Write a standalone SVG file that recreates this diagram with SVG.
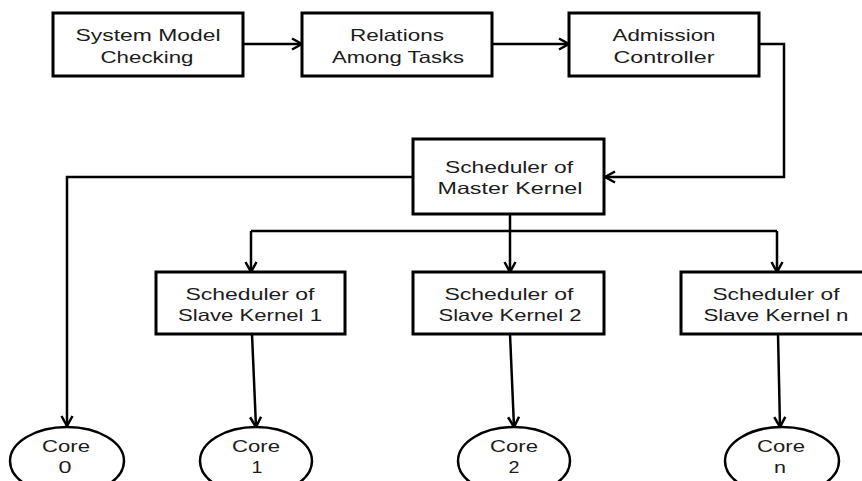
<svg xmlns="http://www.w3.org/2000/svg" width="862" height="481" viewBox="0 0 862 481">
  <style>
    .box { fill: #ffffff; stroke: #000000; stroke-width: 3; }
    .core { fill: #ffffff; stroke: #000000; stroke-width: 2.5; }
    .lbl { font-family: "Liberation Sans", Arial, sans-serif; font-size: 16.5px; fill: #1c1c1c; text-anchor: middle; }
    .wire { fill: none; stroke: #000000; stroke-width: 2.5; }
    .arrow { marker-end: url(#head); }
  </style>
  <defs>
    <marker id="head" markerWidth="14" markerHeight="14" viewBox="0 0 14 14" refX="12" refY="7" orient="auto" markerUnits="userSpaceOnUse">
      <path d="M2,1.5 L12,7 L2,12.5" fill="none" stroke="#000000" stroke-width="2.5"/>
    </marker>
  </defs>

  <!-- connectors -->
  <g id="connectors">
    <path class="wire arrow" d="M243,44 H302"/>
    <path class="wire arrow" d="M492,44 H569"/>
    <path class="wire arrow" d="M759,44 H784 V177 H605"/>
    <path class="wire arrow" d="M413,177 H67 V426"/>
    <path class="wire arrow" d="M510,214 V272"/>
    <path class="wire" d="M251,231 H777"/>
    <path class="wire arrow" d="M251,231 V272"/>
    <path class="wire arrow" d="M777,231 V272"/>
    <path class="wire arrow" d="M252,334 L256,427"/>
    <path class="wire arrow" d="M510,334 L514,427"/>
    <path class="wire arrow" d="M778,334 L780,427"/>
  </g>

  <!-- top row -->
  <g id="system-model-checking">
    <rect class="box" x="53" y="13" width="190" height="63"/>
    <text class="lbl" x="148" y="41" textLength="145" lengthAdjust="spacingAndGlyphs">System Model</text>
    <text class="lbl" x="147" y="63" textLength="93" lengthAdjust="spacingAndGlyphs">Checking</text>
  </g>
  <g id="relations-among-tasks">
    <rect class="box" x="302" y="13" width="190" height="63"/>
    <text class="lbl" x="397" y="41" textLength="94" lengthAdjust="spacingAndGlyphs">Relations</text>
    <text class="lbl" x="398" y="63" textLength="132" lengthAdjust="spacingAndGlyphs">Among Tasks</text>
  </g>
  <g id="admission-controller">
    <rect class="box" x="569" y="13" width="190" height="63"/>
    <text class="lbl" x="664" y="41" textLength="103" lengthAdjust="spacingAndGlyphs">Admission</text>
    <text class="lbl" x="664" y="63" textLength="101" lengthAdjust="spacingAndGlyphs">Controller</text>
  </g>

  <!-- master scheduler -->
  <g id="master-scheduler">
    <rect class="box" x="413" y="139" width="191" height="75"/>
    <text class="lbl" x="509" y="173" textLength="128" lengthAdjust="spacingAndGlyphs">Scheduler of</text>
    <text class="lbl" x="510" y="194" textLength="145" lengthAdjust="spacingAndGlyphs">Master Kernel</text>
  </g>

  <!-- slave schedulers -->
  <g id="slave-scheduler-1">
    <rect class="box" x="156" y="272" width="189" height="62"/>
    <text class="lbl" x="250" y="300" textLength="129" lengthAdjust="spacingAndGlyphs">Scheduler of</text>
    <text class="lbl" x="250" y="321" textLength="144" lengthAdjust="spacingAndGlyphs">Slave Kernel 1</text>
  </g>
  <g id="slave-scheduler-2">
    <rect class="box" x="413" y="272" width="191" height="62"/>
    <text class="lbl" x="509" y="300" textLength="129" lengthAdjust="spacingAndGlyphs">Scheduler of</text>
    <text class="lbl" x="510" y="321" textLength="143" lengthAdjust="spacingAndGlyphs">Slave Kernel 2</text>
  </g>
  <g id="slave-scheduler-n">
    <rect class="box" x="681" y="272" width="192" height="62"/>
    <text class="lbl" x="776" y="300" textLength="127" lengthAdjust="spacingAndGlyphs">Scheduler of</text>
    <text class="lbl" x="776" y="321" textLength="145" lengthAdjust="spacingAndGlyphs">Slave Kernel n</text>
  </g>

  <!-- cores -->
  <g id="core-0">
    <ellipse class="core" cx="67" cy="461" rx="57" ry="34"/>
    <text class="lbl" x="66" y="452" textLength="48" lengthAdjust="spacingAndGlyphs">Core</text>
    <text class="lbl" x="65" y="473" textLength="13" lengthAdjust="spacingAndGlyphs">0</text>
  </g>
  <g id="core-1">
    <ellipse class="core" cx="256" cy="461" rx="56" ry="34"/>
    <text class="lbl" x="256" y="452" textLength="48" lengthAdjust="spacingAndGlyphs">Core</text>
    <text class="lbl" x="257" y="473" textLength="11" lengthAdjust="spacingAndGlyphs">1</text>
  </g>
  <g id="core-2">
    <ellipse class="core" cx="514" cy="461" rx="56" ry="34"/>
    <text class="lbl" x="514" y="452" textLength="48" lengthAdjust="spacingAndGlyphs">Core</text>
    <text class="lbl" x="514" y="473" textLength="11" lengthAdjust="spacingAndGlyphs">2</text>
  </g>
  <g id="core-n">
    <ellipse class="core" cx="782" cy="461" rx="57" ry="34"/>
    <text class="lbl" x="781" y="452" textLength="48" lengthAdjust="spacingAndGlyphs">Core</text>
    <text class="lbl" x="780" y="473" textLength="12" lengthAdjust="spacingAndGlyphs">n</text>
  </g>
</svg>
